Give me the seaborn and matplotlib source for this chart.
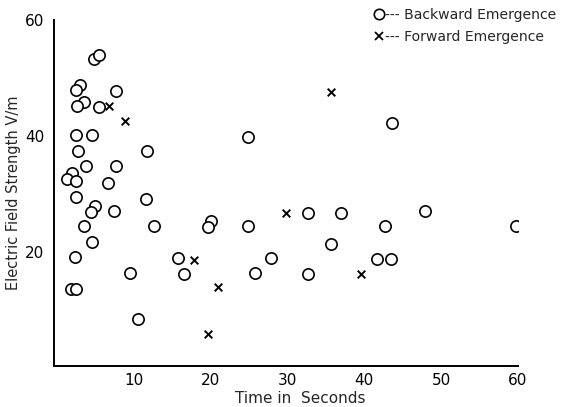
import numpy as np
import pandas as pd
import matplotlib
matplotlib.use("Agg")
import matplotlib.pyplot as plt
import seaborn as sns
from matplotlib.lines import Line2D

# Backward emergence (circles)
back_t = [4.76, 5.41, 3.02, 2.50, 7.66, 3.46, 2.59, 5.49, 2.42, 4.54, 2.68, 11.65,
          3.72, 7.66, 1.98, 1.29, 2.50, 6.58, 2.50, 11.6, 4.89, 4.45, 7.36, 3.46,
          12.64, 4.54, 2.33, 9.48, 1.8, 2.5, 10.5, 24.8, 20.1, 19.6, 24.8, 15.7,
          16.5, 27.8, 25.8, 43.6, 32.7, 36.9, 42.7, 35.6, 41.7, 43.5, 32.7, 47.9, 59.7]
back_e = [53.3, 54.0, 48.8, 47.9, 47.8, 45.9, 45.1, 45.0, 40.1, 40.2, 37.4, 37.4,
          34.9, 34.9, 33.6, 32.5, 32.2, 31.9, 29.5, 29.1, 27.9, 26.9, 27.1, 24.4,
          24.4, 21.7, 19.1, 16.3, 13.6, 13.6, 8.4, 39.9, 25.4, 24.3, 24.4, 18.9,
          16.2, 19.0, 16.4, 42.3, 26.8, 26.8, 24.4, 21.3, 18.8, 18.8, 16.2, 27.1, 24.4]
# Forward emergence (x)
fwd_t = [6.79, 8.83, 17.8, 20.9, 19.6, 35.6, 29.8, 39.6]
fwd_e = [45.1, 42.5, 18.6, 13.9, 5.8, 47.5, 26.8, 16.2]

x_ticks = [10, 20, 30, 40, 50, 60]
y_ticks = [20, 40, 60]

sns.set_style("white")
plt.rcParams['font.family'] = ['DejaVu Sans']

fig = plt.figure(figsize=(5.62, 4.07), dpi=100)
ax = fig.add_axes([0.0961, 0.1015, 0.8256, 0.8495])

back = pd.DataFrame({"t": back_t, "e": back_e})
fwd = pd.DataFrame({"t": fwd_t, "e": fwd_e})

sns.scatterplot(data=back, x="t", y="e", ax=ax, marker="o", s=66,
                facecolor="white", edgecolor="black", linewidth=1.2, zorder=3)
sns.scatterplot(data=fwd, x="t", y="e", ax=ax, marker="x", s=30,
                color="black", linewidth=1.4, zorder=3)

ax.set_xlim(-0.4, 60)
ax.set_ylim(0.4, 60)
ax.set_xticks(x_ticks)
ax.set_yticks(y_ticks)
ax.tick_params(axis="x", direction="in", length=4, width=1.2, labelsize=11, pad=5, colors="black")
ax.tick_params(axis="y", direction="out", length=4, width=1.2, labelsize=11, pad=3, colors="black")
for s in ["top", "right"]:
    ax.spines[s].set_visible(False)
for s in ["left", "bottom"]:
    ax.spines[s].set_color("black")
    ax.spines[s].set_linewidth(1.4)

ax.set_xlabel("Time in  Seconds", fontsize=11)
ax.xaxis.set_label_coords(0.53, -0.072)
ax.set_ylabel("Electric Field Strength V/m", fontsize=10.5, labelpad=3)

handles = [
    Line2D([], [], marker="o", linestyle="none", markerfacecolor="white",
           markeredgecolor="black", markersize=7.5, markeredgewidth=1.2),
    Line2D([], [], marker="x", linestyle="none", color="black",
           markersize=5.5, markeredgewidth=1.3),
]
labels = ["--- Backward Emergence", "--- Forward Emergence"]
leg = fig.legend(handles, labels, loc="upper left", bbox_to_anchor=(0.657, 0.995),
                 frameon=False, fontsize=10.1, handlelength=0.6, handletextpad=0.1,
                 labelspacing=0.6, borderaxespad=0)

fig.savefig("out.png", dpi=100)
